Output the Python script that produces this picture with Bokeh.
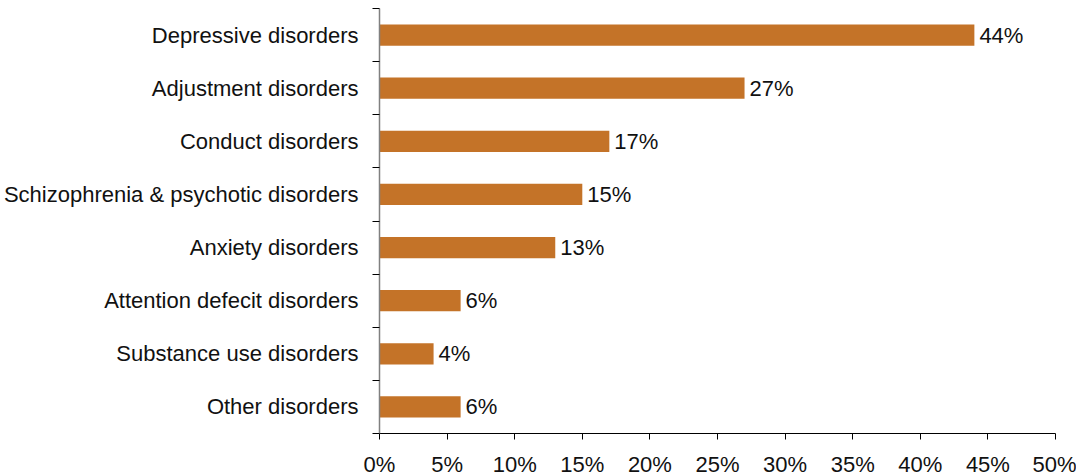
from bokeh.plotting import figure
from bokeh.models import ColumnDataSource, FixedTicker, NumeralTickFormatter, Range1d
from bokeh.core.properties import value
from bokeh.embed import file_html
from bokeh.resources import INLINE

categories = ["Depressive disorders", "Adjustment disorders", "Conduct disorders",
              "Schizophrenia & psychotic disorders", "Anxiety disorders",
              "Attention defecit disorders", "Substance use disorders", "Other disorders"]
values = [44, 27, 17, 15, 13, 6, 4, 6]
x_ticks = [0, 5, 10, 15, 20, 25, 30, 35, 40, 45, 50]

n = len(categories)
ypos = [n - 0.5 - i for i in range(n)]
src = ColumnDataSource(dict(
    y=ypos,
    v=[x / 100 for x in values],
    lab=[f"{x}%" for x in values],
))

FONT = "Liberation Sans"
FS = "22px"
p = figure(width=1076, height=479, output_backend="svg", toolbar_location=None,
           x_range=Range1d(0, 0.5), y_range=Range1d(0, n),
           min_border_left=0, min_border_right=21, min_border_top=8, min_border_bottom=0)
p.outline_line_color = None
p.grid.visible = False
p.background_fill_color = "white"

p.hbar(y="y", right="v", left=0, height=0.4, source=src, color="#C47328", line_color=None)
p.text(x="v", y="y", text="lab", source=src, x_offset=5, text_align="left",
       text_baseline="middle", text_font=value(FONT), text_font_size=FS, text_color="#111111")

xa = p.xaxis[0]
xa.ticker = FixedTicker(ticks=[t / 100 for t in x_ticks])
xa.formatter = NumeralTickFormatter(format="0%")
xa.major_tick_in = 0
xa.major_tick_out = 6
xa.minor_tick_line_color = None
xa.axis_line_color = "#000000"
xa.major_tick_line_color = "#000000"
xa.major_label_text_font = FONT
xa.major_label_text_font_size = FS
xa.major_label_text_color = "#111111"
xa.major_label_standoff = 12

ya = p.yaxis[0]
ya.ticker = FixedTicker(ticks=ypos, minor_ticks=list(range(n + 1)))
ya.major_label_overrides = {y: c for y, c in zip(ypos, categories)}
ya.major_tick_in = 0
ya.major_tick_out = 0
ya.minor_tick_in = 0
ya.minor_tick_out = 7
ya.minor_tick_line_color = "#000000"
ya.axis_line_color = "#808080"
ya.axis_line_width = 1.5
ya.major_label_text_font = FONT
ya.major_label_text_font_size = FS
ya.major_label_text_color = "#111111"
ya.major_label_standoff = 14

open("out.html", "w").write(file_html(p, INLINE))
